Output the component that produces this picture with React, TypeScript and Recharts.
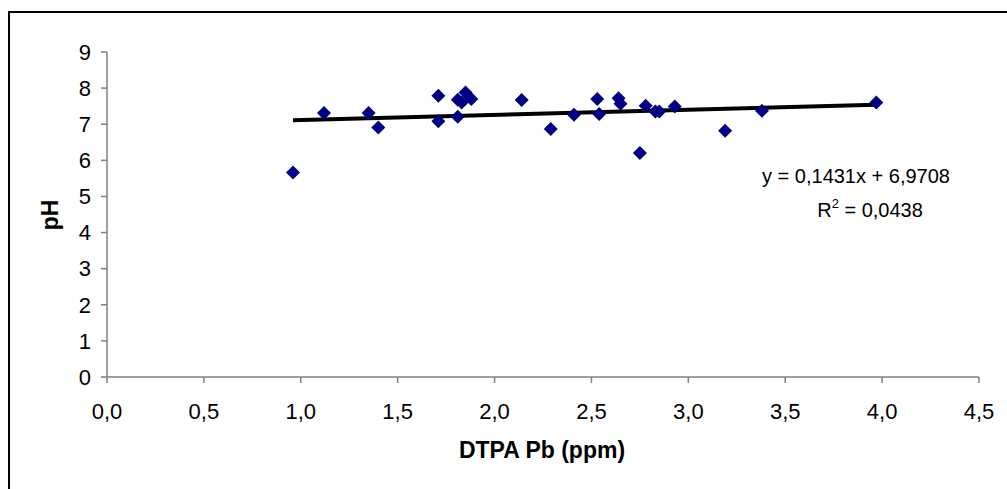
import React from "react";
import {
  ScatterChart,
  Scatter,
  XAxis,
  YAxis,
  ReferenceLine,
} from "recharts";

// DTPA Pb (ppm)
const pbValues = [
  0.96, 1.12, 1.35, 1.40, 1.71, 1.71, 1.81, 1.81, 1.83, 1.85, 1.88, 2.14,
  2.29, 2.41, 2.53, 2.54, 2.64, 2.65, 2.75, 2.78, 2.83, 2.85, 2.93, 3.19,
  3.38, 3.97,
];
// pH
const phValues = [
  5.66, 7.31, 7.31, 6.91, 7.79, 7.08, 7.21, 7.68, 7.60, 7.88, 7.70, 7.67,
  6.87, 7.26, 7.70, 7.28, 7.72, 7.57, 6.20, 7.51, 7.35, 7.35, 7.49, 6.82,
  7.37, 7.60,
];
const xTicks = [0, 0.5, 1, 1.5, 2, 2.5, 3, 3.5, 4, 4.5];
const yTicks = [0, 1, 2, 3, 4, 5, 6, 7, 8, 9];
const slope = 0.1431;
const intercept = 6.9708;
const equationText = "y = 0,1431x + 6,9708";
const r2Text = "0,0438";

const data = pbValues.map((x, i) => ({ x, y: phValues[i] }));
const xMin = Math.min(...pbValues);
const xMax = Math.max(...pbValues);
const trendSegment = [
  { x: xMin, y: slope * xMin + intercept },
  { x: xMax, y: slope * xMax + intercept },
];

const FONT = "'Liberation Sans', Arial, sans-serif";

const Diamond = (props: any) => {
  const { cx, cy } = props;
  const r = 7;
  return (
    <polygon
      points={`${cx},${cy - r} ${cx + r},${cy} ${cx},${cy + r} ${cx - r},${cy}`}
      fill="#000080"
    />
  );
};

const fmt = (v: number) => v.toFixed(1).replace(".", ",");

export default function App() {
  return (
    <div
      style={{
        position: "fixed",
        left: 0,
        top: 0,
        width: 1007,
        height: 489,
        overflow: "hidden",
        background: "#fff",
      }}
    >
      <div
        style={{
          position: "absolute",
          left: 8,
          top: 11,
          width: 1100,
          height: 600,
          border: "2px solid #000",
        }}
      />
      <div style={{ position: "absolute", left: 0, top: 0 }}>
        <ScatterChart
          width={1007}
          height={489}
          margin={{ top: 52, right: 28, bottom: 52, left: 47 }}
        >
          <XAxis
            type="number"
            dataKey="x"
            domain={[0, 4.5]}
            ticks={xTicks}
            tickFormatter={fmt}
            height={60}
            tickSize={6}
            tickMargin={20}
            stroke="#808080"
            strokeWidth={1.5}
            tick={{ fill: "#000", fontSize: 22, fontFamily: FONT }}
            allowDataOverflow
          />
          <YAxis
            type="number"
            dataKey="y"
            domain={[0, 9]}
            ticks={yTicks}
            width={60}
            tickSize={6}
            tickMargin={10}
            stroke="#808080"
            strokeWidth={1.5}
            tick={{ fill: "#000", fontSize: 22, fontFamily: FONT }}
            allowDataOverflow
          />
          <Scatter
            data={data}
            shape={<Diamond />}
            isAnimationActive={false}
          />
          <ReferenceLine
            segment={trendSegment}
            stroke="#000"
            strokeWidth={4}
            ifOverflow="visible"
          />
        </ScatterChart>
      </div>
      <svg
        width={1007}
        height={489}
        style={{ position: "absolute", left: 0, top: 0, pointerEvents: "none" }}
      >
        <text
          x={542}
          y={458}
          textAnchor="middle"
          fontFamily={FONT}
          fontWeight="bold"
          fontSize={23}
          fill="#000"
        >
          DTPA Pb (ppm)
        </text>
        <text
          x={0}
          y={0}
          transform="translate(58,215) rotate(-90)"
          textAnchor="middle"
          fontFamily={FONT}
          fontWeight="bold"
          fontSize={23}
          fill="#000"
        >
          pH
        </text>
        <text
          x={856}
          y={183}
          textAnchor="middle"
          fontFamily={FONT}
          fontSize={20}
          fill="#000"
        >
          {equationText}
        </text>
        <text
          x={870}
          y={217}
          textAnchor="middle"
          fontFamily={FONT}
          fontSize={20}
          fill="#000"
        >
          R
          <tspan dy={-9} fontSize={13}>
            2
          </tspan>
          <tspan dy={9}>{" = " + r2Text}</tspan>
        </text>
      </svg>
    </div>
  );
}
